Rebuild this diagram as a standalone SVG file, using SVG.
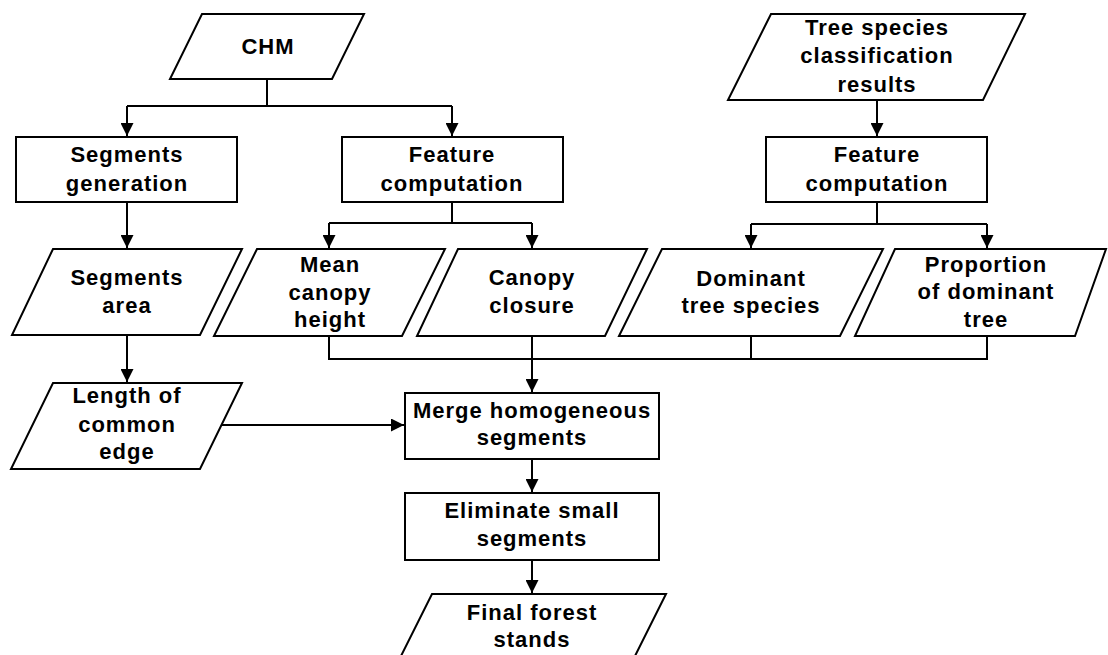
<svg xmlns="http://www.w3.org/2000/svg" width="1108" height="655" viewBox="0 0 1108 655">
<style>
.s{fill:#fff;stroke:#000;stroke-width:2}
.t{font-family:"Liberation Sans",Arial,sans-serif;font-weight:bold;font-size:22px;letter-spacing:1px;text-anchor:middle;fill:#000}
.c{fill:none;stroke:#000;stroke-width:2}
</style>
<defs>
<marker id="ah" markerWidth="13" markerHeight="13" refX="13" refY="6.5" orient="auto" markerUnits="userSpaceOnUse">
<path d="M0,0 L13,6.5 L0,13 Z" fill="#000"/>
</marker>
</defs>
<rect width="1108" height="655" fill="#fff"/>
<g id="connectors">
<path class="c" d="M267,79 V106 M127,106 H452"/>
<path class="c" d="M127,106 V136" marker-end="url(#ah)"/>
<path class="c" d="M452,106 V136" marker-end="url(#ah)"/>
<path class="c" d="M877,100 V136" marker-end="url(#ah)"/>
<path class="c" d="M127,202 V248" marker-end="url(#ah)"/>
<path class="c" d="M452,202 V223 M329,223 H532"/>
<path class="c" d="M329,223 V248" marker-end="url(#ah)"/>
<path class="c" d="M532,223 V248" marker-end="url(#ah)"/>
<path class="c" d="M877,202 V224 M751,224 H987"/>
<path class="c" d="M751,224 V248" marker-end="url(#ah)"/>
<path class="c" d="M987,224 V248" marker-end="url(#ah)"/>
<path class="c" d="M127,335 V382" marker-end="url(#ah)"/>
<path class="c" d="M329,336 V359 H987 V336 M751,336 V359"/>
<path class="c" d="M532,336 V392" marker-end="url(#ah)"/>
<path class="c" d="M221,425 H404" marker-end="url(#ah)"/>
<path class="c" d="M532,459 V492" marker-end="url(#ah)"/>
<path class="c" d="M532,560 V593" marker-end="url(#ah)"/>
</g>
<g id="chm">
<polygon class="s" points="202,14 364,14 332,79 170,79"/>
<text class="t" x="268" y="54">CHM</text>
</g>
<g id="tree-species-results">
<polygon class="s" points="771,14 1025,14 983,100 728,100"/>
<text class="t" x="877" y="35">Tree species</text>
<text class="t" x="877" y="63">classification</text>
<text class="t" x="877" y="92">results</text>
</g>
<g id="segments-generation">
<rect class="s" x="16" y="137" width="221" height="65"/>
<text class="t" x="127" y="162">Segments</text>
<text class="t" x="127" y="191">generation</text>
</g>
<g id="feature-computation-1">
<rect class="s" x="342" y="137" width="221" height="65"/>
<text class="t" x="452" y="162">Feature</text>
<text class="t" x="452" y="191">computation</text>
</g>
<g id="feature-computation-2">
<rect class="s" x="766" y="137" width="221" height="65"/>
<text class="t" x="877" y="162">Feature</text>
<text class="t" x="877" y="191">computation</text>
</g>
<g id="segments-area">
<polygon class="s" points="53,249 242,249 200,335 12,335"/>
<text class="t" x="127" y="285">Segments</text>
<text class="t" x="127" y="313">area</text>
</g>
<g id="mean-canopy-height">
<polygon class="s" points="257,249 445,249 402,336 214,336"/>
<text class="t" x="330" y="272">Mean</text>
<text class="t" x="330" y="300">canopy</text>
<text class="t" x="330" y="327">height</text>
</g>
<g id="canopy-closure">
<polygon class="s" points="458,249 647,249 605,336 417,336"/>
<text class="t" x="532" y="285">Canopy</text>
<text class="t" x="532" y="313">closure</text>
</g>
<g id="dominant-tree-species">
<polygon class="s" points="662,249 883,249 840,336 619,336"/>
<text class="t" x="751" y="286">Dominant</text>
<text class="t" x="751" y="313">tree species</text>
</g>
<g id="proportion-dominant-tree">
<polygon class="s" points="895,249 1106,249 1075,336 855,336"/>
<text class="t" x="986" y="272">Proportion</text>
<text class="t" x="986" y="299">of dominant</text>
<text class="t" x="986" y="327">tree</text>
</g>
<g id="length-common-edge">
<polygon class="s" points="53,383 242,383 200,469 11,469"/>
<text class="t" x="127" y="403">Length of</text>
<text class="t" x="127" y="432">common</text>
<text class="t" x="127" y="459">edge</text>
</g>
<g id="merge-homogeneous">
<rect class="s" x="405" y="393" width="254" height="66"/>
<text class="t" x="532" y="418">Merge homogeneous</text>
<text class="t" x="532" y="445">segments</text>
</g>
<g id="eliminate-small">
<rect class="s" x="405" y="493" width="254" height="67"/>
<text class="t" x="532" y="518">Eliminate small</text>
<text class="t" x="532" y="546">segments</text>
</g>
<g id="final-forest-stands">
<polygon class="s" points="432,594 666,594 623,680 389,680"/>
<text class="t" x="532" y="620">Final forest</text>
<text class="t" x="532" y="647">stands</text>
</g>
</svg>
